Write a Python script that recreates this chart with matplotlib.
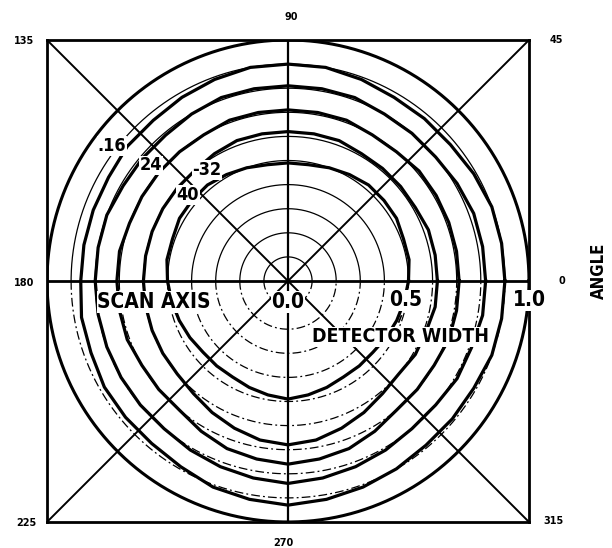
import numpy as np
import matplotlib
matplotlib.use('Agg')
import matplotlib.pyplot as plt

# polar response contours, radius read every 10 degrees (0 = right, counter-clockwise)
angles = np.arange(0, 360, 10)
r16 = [0.90, 0.90, 0.90, 0.89, 0.88, 0.88, 0.88, 0.89, 0.90, 0.90, 0.90, 0.89,
       0.88, 0.87, 0.87, 0.86, 0.86, 0.86, 0.86, 0.87, 0.87, 0.88, 0.88, 0.88,
       0.89, 0.91, 0.92, 0.93, 0.92, 0.91, 0.90, 0.89, 0.89, 0.89, 0.90, 0.90]
r24 = [0.82, 0.82, 0.82, 0.81, 0.80, 0.80, 0.80, 0.81, 0.81, 0.81, 0.81, 0.81,
       0.80, 0.79, 0.79, 0.79, 0.80, 0.80, 0.80, 0.80, 0.80, 0.80, 0.80, 0.80,
       0.81, 0.82, 0.83, 0.84, 0.83, 0.82, 0.81, 0.80, 0.80, 0.81, 0.81, 0.82]
r32 = [0.71, 0.71, 0.71, 0.71, 0.71, 0.70, 0.70, 0.71, 0.71, 0.71, 0.71, 0.71,
       0.70, 0.70, 0.70, 0.70, 0.70, 0.71, 0.71, 0.71, 0.71, 0.70, 0.70, 0.70,
       0.72, 0.74, 0.75, 0.76, 0.75, 0.74, 0.72, 0.70, 0.70, 0.70, 0.71, 0.71]
r40 = [0.62, 0.62, 0.62, 0.61, 0.61, 0.61, 0.61, 0.62, 0.62, 0.62, 0.62, 0.62,
       0.61, 0.60, 0.60, 0.60, 0.60, 0.60, 0.60, 0.60, 0.60, 0.60, 0.60, 0.61,
       0.63, 0.65, 0.67, 0.68, 0.67, 0.65, 0.63, 0.61, 0.60, 0.61, 0.61, 0.62]
r48 = [0.50, 0.51, 0.51, 0.52, 0.52, 0.52, 0.51, 0.50, 0.49, 0.49, 0.49, 0.50,
       0.51, 0.52, 0.52, 0.52, 0.51, 0.51, 0.50, 0.49, 0.48, 0.47, 0.46, 0.46,
       0.46, 0.47, 0.48, 0.49, 0.48, 0.47, 0.46, 0.46, 0.46, 0.47, 0.48, 0.49]
curves = [r16, r24, r32, r40, r48]

grid_r = [0.1, 0.2, 0.3, 0.4, 0.5, 0.6, 0.7, 0.8, 0.9]
angle_labels = ['0', '45', '90', '135', '180', '225', '270', '315']

font = 'DejaVu Sans'

fig = plt.figure(figsize=(6.12, 5.48), dpi=100)
ax = fig.add_axes([47/612, 26/548, 482/612, 482/548])
ax.set_xlim(-1, 1)
ax.set_ylim(-1, 1)
ax.set_xticks([])
ax.set_yticks([])
for s in ax.spines.values():
    s.set_linewidth(2.0)

# thin reference rings: solid on top, broken underneath
t_up = np.linspace(0, np.pi, 200)
t_dn = np.linspace(np.pi, 2*np.pi, 200)
for r in grid_r:
    ax.plot(r*np.cos(t_up), r*np.sin(t_up), color='k', lw=0.9)
    ax.plot(r*np.cos(t_dn), r*np.sin(t_dn), color='k', lw=0.9,
            linestyle=(0, (7, 2.5, 1.5, 2.5)))

# outer ring
t = np.linspace(0, 2*np.pi, 400)
ax.plot(np.cos(t), np.sin(t), color='k', lw=2.2)

# scan axis, cross axis and diagonals
ax.plot([-1, 1], [0, 0], color='k', lw=2.0)
ax.plot([0, 0], [-1, 1], color='k', lw=1.6)
ax.plot([-1, 1], [-1, 1], color='k', lw=1.4)
ax.plot([-1, 1], [1, -1], color='k', lw=1.4)

th = np.deg2rad(np.append(angles, angles[0]))
for rv in curves:
    rr = np.append(rv, rv[0])
    ax.plot(rr*np.cos(th), rr*np.sin(th), color='k', lw=2.3,
            solid_joinstyle='round')

box = dict(facecolor='white', edgecolor='none', pad=0.5)
big = dict(family=font, fontstretch='condensed', fontweight='bold',
           ha='center', va='center')
ax.text(-0.555, -0.087, 'SCAN AXIS', fontsize=15, bbox=box, **big)
ax.text(0.0, -0.087, '0.0', fontsize=15, bbox=box, **big)
ax.text(0.49, -0.08, '0.5', fontsize=15, bbox=box, **big)
ax.text(1.0, -0.08, '1.0', fontsize=15, bbox=box, clip_on=False, **big)
ax.text(0.465, -0.232, 'DETECTOR WIDTH', fontsize=14, bbox=box, **big)
ax.plot([0.47, 0.46], [-0.145, -0.17], color='k', lw=1.2)

small = dict(family=font, fontstretch='condensed', fontweight='bold',
             ha='center', va='center', fontsize=13)
ax.text(-0.73, 0.56, '.16', bbox=box, **small)
ax.text(-0.568, 0.48, '24', bbox=box, **small)
ax.text(-0.336, 0.46, '-32', bbox=box, **small)
ax.text(-0.415, 0.357, '40', bbox=box, **small)

# angle marks round the frame
pos = [(1.137, 0.0), (1.112, 1.0), (0.012, 1.095), (-1.095, 0.996),
       (-1.095, -0.008), (-1.087, -1.004), (-0.02, -1.087), (1.10, -0.996)]
for (x, y), lab in zip(pos, angle_labels):
    ax.text(x, y, lab, family=font, fontweight='bold', fontsize=7,
            ha='center', va='center', clip_on=False)

fig.text(0.978, 0.505, 'ANGLE', family=font, fontstretch='condensed',
         fontweight='bold', fontsize=12, rotation=90, ha='center', va='center')

fig.savefig('out.png', dpi=100)
